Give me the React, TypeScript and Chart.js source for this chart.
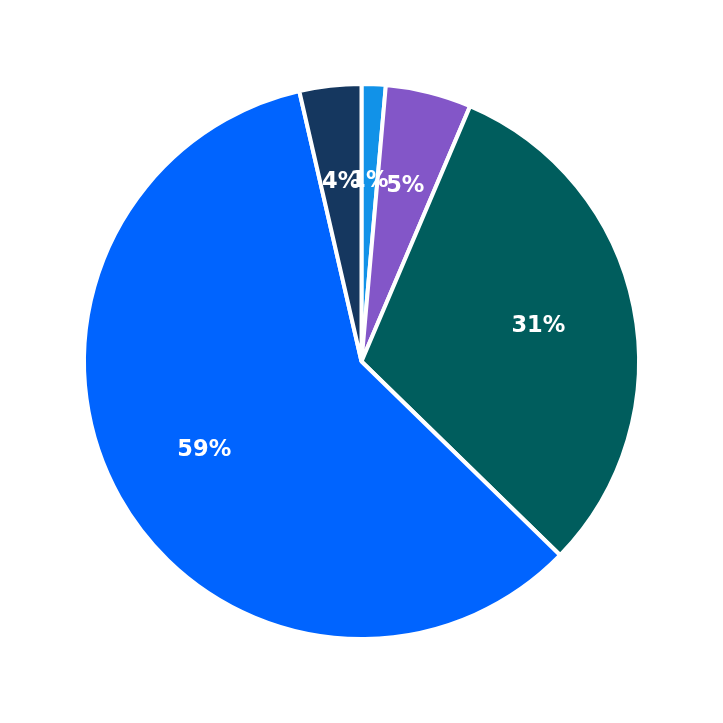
import { useEffect, useRef } from "react"
import { Chart, registerables } from "chart.js"

Chart.register(...registerables)

// slices, clockwise from 12 o'clock
const labels = ["A", "B", "C", "D", "E"]
const values = [1.4, 5.0, 30.9, 59.1, 3.6]
const colors = ["#1192e8", "#8356c8", "#005d5d", "#0064ff", "#15375f"]

const pctLabels = {
  id: "pctLabels",
  afterDatasetsDraw(chart: Chart) {
    const ctx = chart.ctx
    const meta = chart.getDatasetMeta(0)
    const total = values.reduce((a, b) => a + b, 0)
    ctx.save()
    ctx.fillStyle = "#ffffff"
    ctx.font = "bold 22.5px 'DejaVu Sans'"
    ctx.textAlign = "center"
    ctx.textBaseline = "middle"
    meta.data.forEach((el: any, i: number) => {
      const { x, y, startAngle, endAngle, outerRadius } = el.getProps(
        ["x", "y", "startAngle", "endAngle", "outerRadius"],
        true
      )
      const mid = (startAngle + endAngle) / 2
      const r = outerRadius * 0.65
      const pct = Math.round((values[i] / total) * 100)
      ctx.fillText(`${pct}%`, x + Math.cos(mid) * r, y + Math.sin(mid) * r)
    })
    ctx.restore()
  },
}

export default function App() {
  const chartRef = useRef<HTMLCanvasElement>(null)
  const chartInstance = useRef<Chart | null>(null)

  useEffect(() => {
    if (!chartRef.current) return
    if (chartInstance.current) chartInstance.current.destroy()
    const ctx = chartRef.current.getContext("2d")
    if (!ctx) return

    chartInstance.current = new Chart(ctx, {
      type: "pie",
      data: {
        labels,
        datasets: [
          {
            data: values,
            backgroundColor: colors,
            borderColor: "#ffffff",
            borderWidth: 4,
          },
        ],
      },
      options: {
        responsive: true,
        maintainAspectRatio: false,
        animation: false,
        radius: 277.5,
        plugins: {
          legend: { display: false },
          tooltip: { enabled: false },
        },
      },
      plugins: [pctLabels],
    })

    return () => {
      if (chartInstance.current) {
        chartInstance.current.destroy()
        chartInstance.current = null
      }
    }
  }, [])

  return (
    <div style={{ position: "fixed", left: 0, top: 0, width: 723, height: 723, background: "#ffffff" }}>
      <canvas ref={chartRef}></canvas>
    </div>
  )
}
